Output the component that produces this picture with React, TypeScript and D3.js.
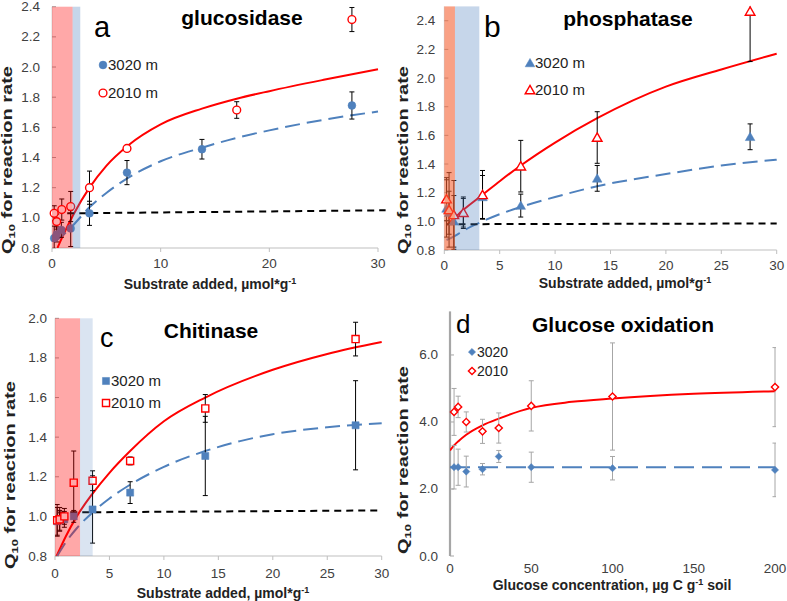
import * as d3 from "d3";

// ---- data ----
const subX = [0.2, 0.43, 0.86, 1.72, 3.45, 6.9, 13.8, 27.6];
const glucRedX = [0.2, 0.43, 0.9, 1.72, 3.45, 6.9, 17.0, 27.6];

const glucBlue = [0.865, 0.89, 0.92, 0.93, 1.03, 1.3, 1.455, 1.745];
const glucBlueErr = [0.08, 0.05, 0.05, 0.12, 0.08, 0.08, 0.065, 0.09];
const glucRed = [1.03, 0.975, 1.055, 1.075, 1.2, 1.46, 1.715, 2.315];
const glucRedErr = [0.05, 0.05, 0.07, 0.1, 0.11, 0.02, 0.055, 0.08];

const phosBlue = [1.09, 1.06, 1.0, 1.06, 1.17, 1.11, 1.3, 1.59];
const phosBlueErr = [0.2, 0.15, 0.18, 0.1, 0.15, 0.08, 0.09, 0.09];
const phosRed = [1.155, 1.08, 1.045, 1.06, 1.185, 1.385, 1.585, 2.465];
const phosRedErr = [0.15, 0.26, 0.24, 0.11, 0.17, 0.18, 0.18, 0.35];

const chitBlue = [0.975, 0.98, 0.985, 1.0, 1.035, 1.12, 1.305, 1.46];
const chitBlueErr = [0.07, 0.05, 0.04, 0.03, 0.17, 0.055, 0.2, 0.225];
const chitRed = [0.98, 0.985, 1.0, 1.17, 1.18, 1.28, 1.545, 1.895];
const chitRedErr = [0.08, 0.06, 0.04, 0.16, 0.05, 0.02, 0.07, 0.085];

const glucoseX = [2.5, 5, 10, 20, 30, 50, 100, 200];
const oxBlue = [2.65, 2.65, 2.52, 2.59, 2.97, 2.65, 2.62, 2.57];
const oxBlueErr = [0.65, 0.54, 0.46, 0.17, 0.18, 0.45, 0.35, 0.8];
const oxRed = [4.3, 4.45, 4.0, 3.72, 3.82, 4.48, 4.76, 5.04];
const oxRedErr = [0.7, 0.32, 0.3, 0.36, 0.45, 0.75, 1.6, 1.18];

// fitted curves
const glucRedFitX = [0.5, 1, 2, 3.45, 5, 7, 10, 13.8, 17, 20, 25, 30];
const glucRedFitY = [0.8, 0.88, 1.025, 1.2, 1.345, 1.48, 1.62, 1.724, 1.79, 1.84, 1.915, 1.985];
const glucBlueFitX = [0.2, 1, 1.8, 3.45, 5, 7, 10, 13.8, 17, 20, 25, 30];
const glucBlueFitY = [0.84, 0.885, 0.94, 1.07, 1.165, 1.265, 1.375, 1.465, 1.53, 1.58, 1.65, 1.705];
const phosRedFitX = [0.2, 1, 1.72, 3.45, 5, 6.9, 10, 13.8, 20, 25, 30];
const phosRedFitY = [0.975, 1.03, 1.08, 1.185, 1.28, 1.39, 1.55, 1.72, 1.94, 2.06, 2.17];
const phosBlueFitX = [0.2, 1, 1.72, 3.45, 5, 6.9, 10, 13.8, 20, 25, 30];
const phosBlueFitY = [0.87, 0.9, 0.935, 1.0, 1.05, 1.1, 1.17, 1.245, 1.33, 1.39, 1.43];
const chitRedFitX = [0.15, 1, 2, 3.45, 5, 6.9, 10, 13.8, 20, 25, 30];
const chitRedFitY = [0.8, 0.9, 1.0, 1.115, 1.22, 1.33, 1.48, 1.6, 1.74, 1.82, 1.88];
const chitBlueFitX = [0.2, 1, 2, 3.45, 5, 6.9, 10, 13.8, 17, 20, 25, 30];
const chitBlueFitY = [0.8, 0.87, 0.94, 1.02, 1.09, 1.16, 1.25, 1.33, 1.38, 1.415, 1.45, 1.47];
const oxRedFitX = [0, 2.5, 5, 10, 20, 30, 50, 75, 100, 150, 200];
const oxRedFitY = [3.15, 3.3, 3.42, 3.62, 3.9, 4.1, 4.42, 4.6, 4.7, 4.84, 4.92];
const oxBlueFitX = [0, 200];
const oxBlueFitY = [2.65, 2.65];

// Q10 = 1 reference (black dashed)
const glucRefX = [1.4, 30.7];
const glucRefY = [1.03, 1.05];
const phosRefX = [0.2, 30];
const phosRefY = [0.98, 0.985];
const chitRefX = [0.3, 30];
const chitRefY = [1.02, 1.03];

// shaded substrate ranges [from, to]
const glucShades = [[0, 1.9], [1.9, 2.6]];
const phosShades = [[0, 0.96], [0.96, 3.16]];
const chitShades = [[0, 2.3], [2.3, 3.46]];

const ticks02 = (a: number, b: number) => d3.range(Math.round((b - a) / 0.2) + 1).map((i) => a + i * 0.2);
const yTicksA = ticks02(0.8, 2.4);
const yTicksB = ticks02(0.8, 2.4);
const yTicksC = ticks02(0.8, 2.0);
const yTicksD = [0, 2, 4, 6];
const xTicksA = [0, 10, 20, 30];
const xTicksBC = [0, 5, 10, 15, 20, 25, 30];
const xTicksD = [0, 50, 100, 150, 200];

const BLUE = "#4F81BD";
const RED = "#FF0000";
const FONT = "'Liberation Sans', Arial, sans-serif";

type Series = { xs: number[]; ys: number[]; err: number[]; color: string; filled: boolean };
type Spec = {
  l: number; r: number; t: number; b: number;
  xDomain: [number, number]; yDomain: [number, number];
  xTicks: number[]; yTicks: number[]; yLabelGap: number; xLabelY: number;
  shape: "circle" | "triangle" | "square" | "diamond"; msize: number;
  series: Series[];
  fits: { xs: number[]; ys: number[]; color: string; dash?: string }[];
  ref?: { xs: number[]; ys: number[] };
  shades: number[][]; shadeColors: string[];
  title: string; titleX: number; titleY: number;
  letter: string; letterX: number; letterY: number; letterSize: number;
  legend: { x: number; y: number; gap: number; labels: string[]; size: number };
  xTitle: React.ReactNode; xTitleX: number; xTitleY: number;
  yTitleX: number; yTitleY: number;
  errColor: string; yAxisHeavy?: boolean; yFmt: (v: number) => string;
};

function marker(shape: Spec["shape"], size: number) {
  const t = shape === "circle" ? d3.symbolCircle : shape === "triangle" ? d3.symbolTriangle : d3.symbolSquare;
  return d3.symbol().type(t).size(size)() as string;
}

function Panel({ s, id }: { s: Spec; id: string }) {
  const x = d3.scaleLinear().domain(s.xDomain).range([s.l, s.r]);
  const y = d3.scaleLinear().domain(s.yDomain).range([s.b, s.t]);
  const line = d3.line<number>().curve(d3.curveMonotoneX);
  const path = (xs: number[], ys: number[]) =>
    line.x((_, i) => x(xs[i])).y((_, i) => y(ys[i]))(xs) as string;
  const sym = marker(s.shape, s.msize);
  const rot = s.shape === "diamond" ? " rotate(45)" : "";
  const tri = s.shape === "triangle" ? 1 : 0;
  const drawMarker = (cx: number, cy: number, color: string, filled: boolean, key: string) => (
    <path key={key} d={sym} transform={`translate(${cx},${cy + tri})${rot}`}
      fill={filled ? color : "#fff"} stroke={color} strokeWidth={filled ? 0.5 : 1.4} />
  );
  return (
    <g fontFamily={FONT}>
      <defs>
        <clipPath id={id}><rect x={s.l} y={s.t} width={s.r - s.l + 1} height={s.b - s.t} /></clipPath>
      </defs>
      {/* axes */}
      {s.yAxisHeavy ? (
        <line x1={s.l} x2={s.l} y1={s.t} y2={s.b} stroke="#A6A6A6" strokeWidth={2.2} />
      ) : (
        <>
          <line x1={s.l} x2={s.l} y1={s.t} y2={s.b} stroke="#D9D9D9" />
          <line x1={s.l} x2={s.r} y1={s.b} y2={s.b} stroke="#BFBFBF" />
          {s.xTicks.map((t) => (
            <line key={`xt${t}`} x1={x(t)} x2={x(t)} y1={s.b} y2={s.b + 4} stroke="#BFBFBF" />
          ))}
        </>
      )}
      {s.yTicks.map((t) => (
        <g key={`y${t}`}>
          <line x1={s.l} x2={s.l + 4} y1={y(t)} y2={y(t)} stroke="#A6A6A6" />
          <text x={s.l - s.yLabelGap} y={y(t) + 4.5} textAnchor="end" fontSize={13.5} fill="#404040">{s.yFmt(t)}</text>
        </g>
      ))}
      {s.xTicks.map((t) => (
        <text key={`x${t}`} x={x(t)} y={s.xLabelY} textAnchor="middle" fontSize={13.5} fill="#404040">{t}</text>
      ))}
      {/* fitted curves */}
      <g clipPath={`url(#${id})`}>
        {s.fits.map((f, i) => (
          <path key={`f${i}`} d={path(f.xs, f.ys)} fill="none" stroke={f.color} strokeWidth={2} strokeDasharray={f.dash} />
        ))}
      </g>
      {s.ref && (
        <path d={path(s.ref.xs, s.ref.ys)} fill="none" stroke="#000" strokeWidth={2} strokeDasharray="7,5" />
      )}
      {/* error bars */}
      <g clipPath={`url(#${id})`} stroke={s.errColor} strokeWidth={1}>
        {s.series.map((se, k) =>
          se.xs.map((xv, i) => {
            const cx = x(xv), hi = y(se.ys[i] + se.err[i]), lo = y(se.ys[i] - se.err[i]);
            return (
              <g key={`e${k}-${i}`}>
                <line x1={cx} x2={cx} y1={hi} y2={lo} />
                <line x1={cx - 2.5} x2={cx + 2.5} y1={hi} y2={hi} />
                <line x1={cx - 2.5} x2={cx + 2.5} y1={lo} y2={lo} />
              </g>
            );
          })
        )}
      </g>
      {/* markers */}
      {s.series.map((se, k) => se.xs.map((xv, i) => drawMarker(x(xv), y(se.ys[i]), se.color, se.filled, `m${k}-${i}`)))}
      {/* shaded ranges, drawn over the data */}
      {s.shades.map((sh, i) => (
        <rect key={`s${i}`} x={x(sh[0])} y={s.t} width={x(sh[1]) - x(sh[0])} height={s.b - s.t} fill={s.shadeColors[i]} />
      ))}
      {/* legend */}
      {s.series.map((se, k) => (
        <g key={`l${k}`}>
          {drawMarker(s.legend.x, s.legend.y + k * s.legend.gap, se.color, se.filled, `lm${k}`)}
          <text x={s.legend.x + 5} y={s.legend.y + k * s.legend.gap + 5} fontSize={s.legend.size} fill="#222">{s.legend.labels[k]}</text>
        </g>
      ))}
      <text x={s.titleX} y={s.titleY} textAnchor="middle" fontSize={21} fontWeight="bold">{s.title}</text>
      <text x={s.letterX} y={s.letterY} fontSize={s.letterSize}>{s.letter}</text>
      <text x={s.xTitleX} y={s.xTitleY} textAnchor="middle" fontSize={14} fontWeight="bold" fill="#222">{s.xTitle}</text>
      <text transform={`translate(${s.yTitleX},${s.yTitleY}) rotate(-90)`} textAnchor="middle" fontSize={14}
        fontWeight="bold" fill="#222" dy={5} textLength={188} lengthAdjust="spacingAndGlyphs">
        Q<tspan fontSize={9} dy={3}>10</tspan><tspan dy={-3}> for reaction rate</tspan>
      </text>
    </g>
  );
}

const subTitle = (
  <>Substrate added, µmol*g<tspan fontSize={9} dy={-5}>-1</tspan></>
);
const f1 = (v: number) => v.toFixed(1);

const specs: Spec[] = [
  {
    l: 52, r: 378, t: 6.7, b: 248, xDomain: [0, 30], yDomain: [0.8, 2.4],
    xTicks: xTicksA, yTicks: yTicksA, yLabelGap: 12, xLabelY: 268, shape: "circle", msize: 48,
    series: [
      { xs: subX, ys: glucBlue, err: glucBlueErr, color: BLUE, filled: true },
      { xs: glucRedX, ys: glucRed, err: glucRedErr, color: RED, filled: false },
    ],
    fits: [
      { xs: glucRedFitX, ys: glucRedFitY, color: RED },
      { xs: glucBlueFitX, ys: glucBlueFitY, color: BLUE, dash: "15,7" },
    ],
    ref: { xs: glucRefX, ys: glucRefY },
    shades: glucShades, shadeColors: ["rgba(255,0,0,0.34)", "rgba(79,129,189,0.32)"],
    title: "glucosidase", titleX: 242, titleY: 25, letter: "a", letterX: 94, letterY: 37, letterSize: 29,
    legend: { x: 103, y: 65, gap: 28, labels: ["3020 m", "2010 m"], size: 15 },
    xTitle: subTitle, xTitleX: 210, xTitleY: 289, yTitleX: 7, yTitleY: 160,
    errColor: "#000", yFmt: f1,
  },
  {
    l: 444.3, r: 776.7, t: 6.4, b: 250, xDomain: [0, 30], yDomain: [0.8, 2.5],
    xTicks: xTicksBC, yTicks: yTicksB, yLabelGap: 9, xLabelY: 270, shape: "triangle", msize: 40,
    series: [
      { xs: subX, ys: phosBlue, err: phosBlueErr, color: BLUE, filled: true },
      { xs: subX, ys: phosRed, err: phosRedErr, color: RED, filled: false },
    ],
    fits: [
      { xs: phosRedFitX, ys: phosRedFitY, color: RED },
      { xs: phosBlueFitX, ys: phosBlueFitY, color: BLUE, dash: "15,7" },
    ],
    ref: { xs: phosRefX, ys: phosRefY },
    shades: phosShades, shadeColors: ["rgba(245,98,52,0.6)", "rgba(79,129,189,0.32)"],
    title: "phosphatase", titleX: 628, titleY: 26, letter: "b", letterX: 484, letterY: 37, letterSize: 30,
    legend: { x: 530, y: 63, gap: 27, labels: ["3020 m", "2010 m"], size: 15 },
    xTitle: subTitle, xTitleX: 625, xTitleY: 288, yTitleX: 403, yTitleY: 160,
    errColor: "#000", yFmt: f1,
  },
  {
    l: 55, r: 381.7, t: 318.3, b: 556, xDomain: [0, 30], yDomain: [0.8, 2.0],
    xTicks: xTicksBC, yTicks: yTicksC, yLabelGap: 8, xLabelY: 578, shape: "square", msize: 50,
    series: [
      { xs: subX, ys: chitBlue, err: chitBlueErr, color: BLUE, filled: true },
      { xs: subX, ys: chitRed, err: chitRedErr, color: RED, filled: false },
    ],
    fits: [
      { xs: chitRedFitX, ys: chitRedFitY, color: RED },
      { xs: chitBlueFitX, ys: chitBlueFitY, color: BLUE, dash: "15,7" },
    ],
    ref: { xs: chitRefX, ys: chitRefY },
    shades: chitShades, shadeColors: ["rgba(255,0,0,0.34)", "rgba(79,129,189,0.21)"],
    title: "Chitinase", titleX: 211, titleY: 338, letter: "c", letterX: 100, letterY: 347, letterSize: 27,
    legend: { x: 106, y: 381, gap: 22, labels: ["3020 m", "2010 m"], size: 15 },
    xTitle: subTitle, xTitleX: 223, xTitleY: 598, yTitleX: 10, yTitleY: 475,
    errColor: "#000", yFmt: f1,
  },
  {
    l: 450, r: 775, t: 311.4, b: 556, xDomain: [0, 200], yDomain: [0, 7.3],
    xTicks: xTicksD, yTicks: yTicksD, yLabelGap: 12, xLabelY: 573, shape: "diamond", msize: 26,
    series: [
      { xs: glucoseX, ys: oxBlue, err: oxBlueErr, color: BLUE, filled: true },
      { xs: glucoseX, ys: oxRed, err: oxRedErr, color: RED, filled: false },
    ],
    fits: [
      { xs: oxRedFitX, ys: oxRedFitY, color: RED },
      { xs: oxBlueFitX, ys: oxBlueFitY, color: BLUE, dash: "20,8" },
    ],
    shades: [], shadeColors: [],
    title: "Glucose oxidation", titleX: 623, titleY: 332, letter: "d", letterX: 456, letterY: 333, letterSize: 26,
    legend: { x: 472, y: 352, gap: 19, labels: ["3020", "2010"], size: 14 },
    xTitle: <>Glucose concentration, µg C g<tspan fontSize={9} dy={-5}>-1</tspan><tspan dy={5}> soil</tspan></>,
    xTitleX: 612, xTitleY: 590, yTitleX: 403, yTitleY: 460,
    errColor: "#A6A6A6", yAxisHeavy: true, yFmt: f1,
  },
];

export default function App() {
  return (
    <svg width={787} height={601} style={{ position: "absolute", left: 0, top: 0, background: "#fff" }}>
      <rect width={787} height={601} fill="#fff" />
      {specs.map((s, i) => <Panel key={i} s={s} id={`clip${i}`} />)}
    </svg>
  );
}
